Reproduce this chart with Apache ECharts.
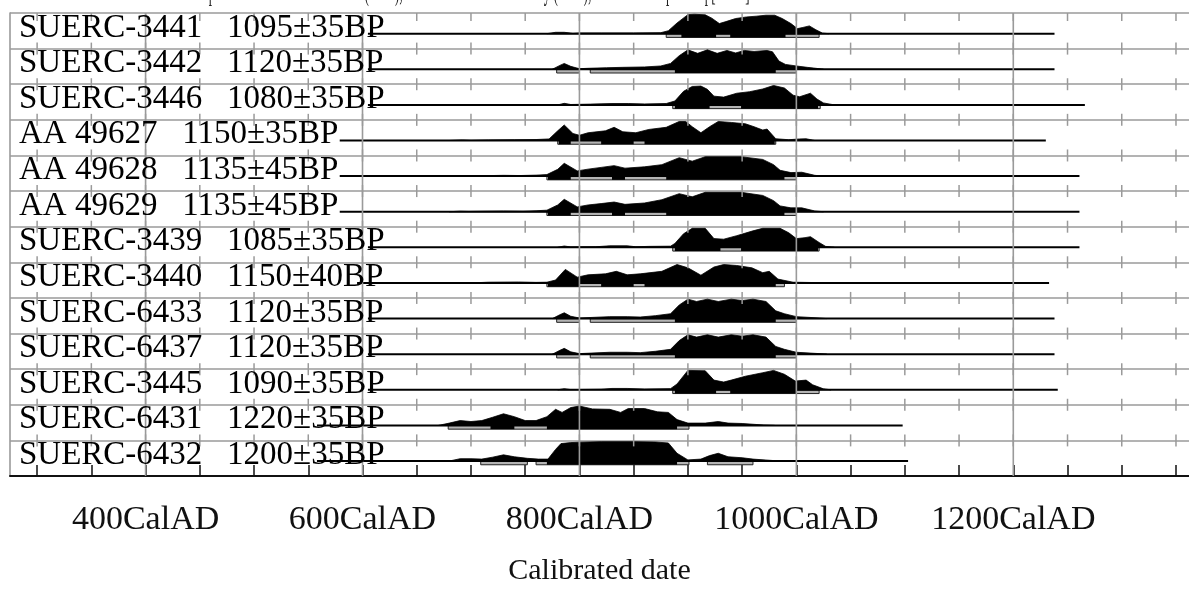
<!DOCTYPE html>
<html><head><meta charset="utf-8">
<script src="https://cdn.jsdelivr.net/npm/echarts@6/dist/echarts.min.js"></script>
<style>html,body{margin:0;padding:0;background:#fff}#c{width:1189px;height:591px}</style>
</head><body><div id="c"></div>
<script>
// ---- data ----
const labels = [
  'SUERC-3441   1095±35BP','SUERC-3442   1120±35BP','SUERC-3446   1080±35BP',
  'AA 49627   1150±35BP','AA 49628   1135±45BP','AA 49629   1135±45BP',
  'SUERC-3439   1085±35BP','SUERC-3440   1150±40BP','SUERC-6433   1120±35BP',
  'SUERC-6437   1120±35BP','SUERC-3445   1090±35BP','SUERC-6431   1220±35BP',
  'SUERC-6432   1200±35BP'
];
// baseline extent of each calibrated distribution (cal AD)
const lineStart = [605,605,605,579,579,579,605,595,605,605,605,558,558];
const lineEnd   = [1238,1238,1266,1230,1261,1261,1261,1233,1238,1238,1241,1098,1103];
// relative probability profiles [year, density]
const d3441 = [[770,0],[778,0.07],[786,0.07],[794,0.02],[800,0.04],[820,0.04],[850,0.04],[875,0.05],[882,0.15],[890,0.55],[900,0.98],[906,1.0],[916,0.97],[922,0.8],[929,0.52],[935,0.62],[944,0.78],[954,0.86],[963,0.9],[972,0.95],[980,0.95],[987,0.78],[995,0.52],[1001,0.26],[1006,0.32],[1012,0.4],[1018,0.2],[1024,0.03],[1030,0]];
const d3442 = [[775,0],[782,0.2],[786,0.3],[792,0.15],[800,0.03],[808,0.05],[825,0.08],[840,0.1],[860,0.12],[875,0.17],[884,0.3],[892,0.7],[900,1.0],[909,0.82],[918,1.0],[927,0.82],[936,0.97],[944,0.84],[952,0.97],[961,0.92],[973,0.97],[978,0.9],[984,0.42],[990,0.25],[1000,0.17],[1010,0.1],[1018,0.05],[1025,0]];
const d3446 = [[780,0],[786,0.08],[792,0.02],[810,0.04],[830,0.07],[845,0.07],[860,0.05],[880,0.07],[888,0.2],[896,0.7],[904,0.95],[912,0.97],[918,0.8],[924,0.45],[933,0.4],[945,0.6],[957,0.68],[969,0.82],[979,1.0],[989,0.87],[997,0.5],[1003,0.42],[1013,0.6],[1019,0.3],[1025,0.1],[1033,0.02],[1040,0]];
const d49627 = [[680,0],[692,0.03],[700,0.01],[716,0.03],[740,0.04],[760,0.05],[772,0.08],[780,0.5],[786,0.8],[794,0.36],[800,0.27],[808,0.4],[824,0.5],[832,0.68],[840,0.45],[852,0.4],[864,0.57],[880,0.68],[892,0.98],[898,0.98],[904,0.71],[912,0.4],[920,0.71],[928,0.98],[940,0.93],[953,0.86],[961,0.71],[969,0.54],[973,0.59],[981,0.09],[993,0.04],[1003,0.08],[1009,0.09],[1017,0]];
const d49628 = [[680,0],[690,0.03],[698,0.03],[710,0.02],[730,0.04],[745,0.03],[760,0.05],[770,0.08],[780,0.35],[786,0.66],[798,0.27],[808,0.36],[820,0.45],[832,0.54],[842,0.41],[860,0.48],[876,0.59],[892,0.95],[904,0.77],[916,1.0],[949,1.0],[969,0.86],[979,0.59],[985,0.3],[995,0.18],[1005,0.2],[1017,0.04],[1025,0]];
const d49629 = [[680,0],[690,0.03],[698,0.02],[712,0.03],[730,0.04],[748,0.03],[760,0.05],[770,0.08],[780,0.35],[786,0.64],[798,0.25],[808,0.35],[820,0.42],[832,0.5],[842,0.38],[860,0.45],[876,0.62],[892,0.93],[904,0.77],[916,1.0],[949,1.0],[969,0.84],[979,0.57],[985,0.3],[995,0.2],[1005,0.2],[1017,0.04],[1025,0]];
const d3439 = [[780,0],[786,0.07],[792,0.02],[815,0.03],[828,0.08],[844,0.08],[852,0.03],[864,0.05],[884,0.06],[888,0.2],[896,0.7],[904,0.98],[916,0.98],[924,0.45],[933,0.42],[945,0.6],[960,0.85],[969,0.98],[985,0.98],[993,0.75],[1000,0.45],[1008,0.5],[1013,0.55],[1021,0.25],[1027,0.05],[1035,0]];
const d3440 = [[690,0],[694,0.02],[700,0],[716,0.04],[744,0.05],[760,0.03],[770,0.04],[778,0.15],[787,0.7],[798,0.3],[808,0.42],[824,0.47],[834,0.6],[844,0.42],[856,0.47],[876,0.6],[890,0.95],[900,0.78],[912,0.4],[924,0.82],[933,0.95],[945,0.9],[959,0.78],[969,0.53],[975,0.6],[983,0.2],[997,0.04],[1017,0.02],[1022,0]];
const d6433 = [[775,0],[782,0.2],[786,0.3],[792,0.12],[800,0.03],[828,0.1],[844,0.1],[856,0.08],[870,0.15],[884,0.25],[892,0.7],[900,1.0],[908,0.88],[918,1.0],[928,0.88],[940,1.0],[950,0.93],[960,1.0],[972,0.88],[981,0.4],[989,0.25],[1000,0.1],[1021,0.03],[1028,0]];
const d6437 = [[775,0],[782,0.2],[786,0.3],[792,0.12],[800,0.03],[828,0.1],[844,0.1],[856,0.08],[870,0.15],[884,0.25],[892,0.7],[900,1.0],[908,0.88],[918,1.0],[928,0.88],[940,1.0],[950,0.93],[960,1.0],[972,0.88],[981,0.4],[989,0.25],[1000,0.1],[1021,0.03],[1028,0]];
const d3445 = [[780,0],[786,0.06],[792,0.01],[820,0.03],[830,0.07],[844,0.07],[860,0.04],[884,0.06],[890,0.3],[900,1.0],[916,0.98],[924,0.5],[933,0.4],[940,0.5],[953,0.7],[969,0.88],[979,1.0],[989,0.8],[999,0.45],[1009,0.5],[1015,0.26],[1025,0.05],[1032,0]];
const d6431 = [[670,0],[680,0.12],[690,0.25],[700,0.2],[710,0.25],[720,0.42],[730,0.6],[740,0.45],[750,0.25],[760,0.25],[770,0.45],[778,0.83],[784,0.67],[792,0.92],[800,1.0],[812,0.85],[828,0.83],[838,0.67],[845,0.87],[860,0.87],[872,0.7],[882,0.67],[890,0.3],[900,0.12],[916,0.12],[928,0.2],[937,0.12],[950,0.1],[960,0.06],[970,0.02],[980,0]];
const d6432 = [[680,0],[690,0.12],[700,0.12],[710,0.1],[720,0.2],[730,0.32],[740,0.22],[752,0.14],[762,0.1],[771,0.1],[778,0.6],[783,0.9],[792,0.95],[800,0.97],[820,1.0],[850,1.0],[870,0.98],[882,0.93],[890,0.4],[900,0.06],[912,0.1],[920,0.28],[928,0.4],[937,0.22],[950,0.17],[960,0.1],[975,0.04],[985,0]];
const profiles = [d3441,d3442,d3446,d49627,d49628,d49629,d3439,d3440,d6433,d6437,d3445,d6431,d6432];
// 95.4% and 68.2% ranges (cal AD)
const r95 = [
  [[880,1021]],[[779,800],[810,1000]],[[886,1022]],
  [[780,981]],[[770,1000]],[[770,1000]],
  [[886,1021]],[[770,989]],[[779,800],[810,1000]],
  [[779,800],[810,1000]],[[886,1021]],[[679,901]],
  [[709,752],[760,901],[918,960]]
];
const r68 = [
  [[894,926],[939,990]],[[888,981]],[[888,920],[949,1020]],
  [[781,792],[820,850],[860,980]],[[771,792],[830,842],[880,989]],[[771,792],[830,842],[880,989]],
  [[888,930],[949,1020]],[[771,800],[820,850],[860,981]],[[888,981]],
  [[888,981]],[[888,926],[939,1000]],[[718,740],[770,890]],
  [[770,890]]
];
const tickYears  = [300,350,400,450,500,550,600,650,700,750,800,850,900,950,1000,1050,1100,1150,1200,1250,1300,1350];
const gridYears  = [400,600,800,1000,1200];
const labelYears = [400,600,800,1000,1200];
const headerText = 'Atmospheric data from Reimer et al (2004);OxCal v3.10 Bronk Ramsey (2005); cub r:5 sd:12 prob usp[chron]';

// ---- chart ----
const X_MIN = 275, X_MAX = 1362, ROWS = labels.length;
const BASE = 0.58, PEAK = 0.545, BAR = 0.105;
const SERIF = '"Liberation Serif","Times New Roman",serif';
const GRID_GRAY = '#9a9a9a';

const chart = echarts.init(document.getElementById('c'), null, {renderer:'canvas'});

function renderRow(params, api) {
  const i = params.dataIndex;
  const base = i + BASE;
  const ch = [];
  r95[i].forEach(r => {
    const a = api.coord([r[0], base]), b = api.coord([r[1], base + BAR]);
    ch.push({type:'rect', shape:{x:a[0], y:a[1], width:b[0]-a[0], height:b[1]-a[1]},
      style:{fill:'#b4b4b4', stroke:'#222', lineWidth:1}});
  });
  r68[i].forEach(r => {
    const a = api.coord([r[0], base]), b = api.coord([r[1], base + BAR]);
    ch.push({type:'rect', shape:{x:a[0], y:a[1], width:b[0]-a[0], height:b[1]-a[1]},
      style:{fill:'#000'}});
  });
  const s = api.coord([lineStart[i], base]), e = api.coord([lineEnd[i], base]);
  ch.push({type:'line', shape:{x1:s[0], y1:s[1], x2:e[0], y2:e[1]}, style:{stroke:'#000', lineWidth:2}});
  const prof = profiles[i];
  const pts = [api.coord([prof[0][0], base])];
  prof.forEach(p => pts.push(api.coord([p[0], base - PEAK * p[1]])));
  pts.push(api.coord([prof[prof.length-1][0], base]));
  ch.push({type:'polygon', shape:{points:pts}, style:{fill:'#000', stroke:'#000', lineWidth:0.8}});
  return {type:'group', children:ch};
}

function renderLabel(params, api) {
  const i = params.dataIndex;
  const p = api.coord([X_MIN, i + 0.42]);
  return {type:'text', x:p[0] + 9, y:p[1],
    style:{text:labels[i], fontFamily:SERIF, fontSize:33, fill:'#000', align:'left', verticalAlign:'middle'}};
}

function renderGridLine(params, api) {
  const yr = gridYears[params.dataIndex];
  const a = api.coord([yr, 0]), b = api.coord([yr, ROWS]);
  return {type:'line', shape:{x1:a[0], y1:a[1], x2:b[0], y2:b[1]}, style:{stroke:GRID_GRAY, lineWidth:1.6}};
}

function renderTicks(params, api) {
  const yr = tickYears[params.dataIndex];
  const ch = [];
  for (let k = 0; k < ROWS; k++) {
    const p = api.coord([yr, k]);
    const up = k === 0 ? 0 : 6, down = k === 0 ? 8 : 6;
    ch.push({type:'line', shape:{x1:p[0], y1:p[1]-up, x2:p[0], y2:p[1]+down}, style:{stroke:GRID_GRAY, lineWidth:1.5}});
  }
  return {type:'group', children:ch};
}

chart.setOption({
  animation:false,
  backgroundColor:'#fff',
  grid:{left:10, right:0, top:13, bottom:115},
  xAxis:{
    type:'value', min:X_MIN, max:X_MAX,
    axisLine:{onZero:false, lineStyle:{color:'#111', width:2}},
    axisTick:{show:true, inside:true, length:11, customValues:tickYears, lineStyle:{color:'#111', width:1.5}},
    axisLabel:{customValues:labelYears, formatter:v => v + 'CalAD', fontFamily:SERIF, fontSize:34, color:'#111', margin:27},
    splitLine:{show:false},
    name:'Calibrated date', nameLocation:'middle', nameGap:80,
    nameTextStyle:{fontFamily:SERIF, fontSize:30, color:'#111'}
  },
  yAxis:{
    type:'value', min:0, max:ROWS, interval:1, inverse:true,
    axisLine:{show:true, lineStyle:{color:GRID_GRAY, width:1.6}},
    axisTick:{show:false}, axisLabel:{show:false},
    splitLine:{show:true, lineStyle:{color:GRID_GRAY, width:1.6}}
  },
  graphic:[{type:'text', x:174, y:7, scaleY:2.2, silent:true,
    style:{text:headerText, fontFamily:SERIF, fontSize:13, fill:'#222', verticalAlign:'bottom'}}],
  series:[
    {type:'custom', z:2, renderItem:renderRow, data:labels.map((l,i)=>[lineStart[i], i])},
    {type:'custom', z:3, renderItem:renderGridLine, data:gridYears.map(y=>[y,0])},
    {type:'custom', z:3, renderItem:renderTicks, data:tickYears.map(y=>[y,0])},
    {type:'custom', z:4, renderItem:renderLabel, data:labels.map((l,i)=>[X_MIN, i])}
  ]
});
</script>
</body></html>
